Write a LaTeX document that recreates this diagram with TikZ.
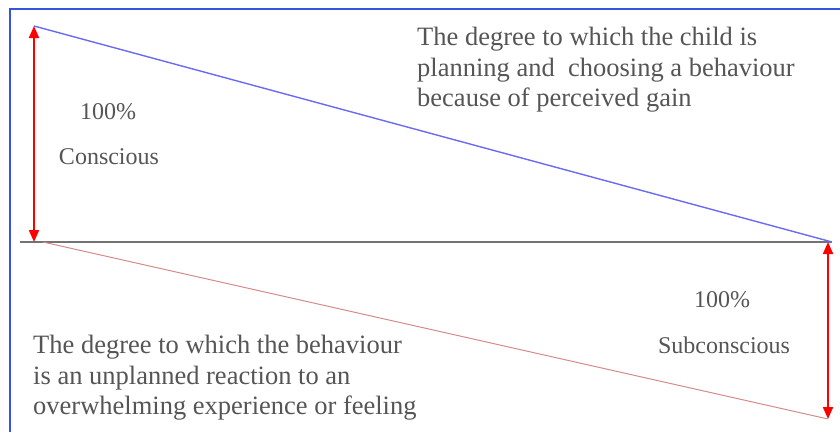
\documentclass[tikz,border=0pt]{standalone}
\usepackage{fontspec}
\setmainfont{Liberation Serif}
\usetikzlibrary{arrows.meta}
\definecolor{frameblue}{HTML}{3355DD}
\definecolor{lineblue}{HTML}{6A6AF5}
\definecolor{linepink}{HTML}{D68A8A}
\definecolor{textgray}{HTML}{555555}
\tikzset{
  label/.style={text=textgray, inner sep=0pt, font=\fontsize{26.5}{30.5}\selectfont},
  side/.style={text=textgray, inner sep=0pt, font=\fontsize{24}{28}\selectfont},
  span/.style={red, line width=2pt, {Triangle[width=10pt,length=12pt]}-{Triangle[width=10pt,length=12pt]}},
}
\begin{document}
\begin{tikzpicture}[x=1pt,y=-1pt]
  \useasboundingbox (0,0) rectangle (840,432);
  \draw[frameblue, line width=2pt] (10,432) -- (10,9) -- (840,9);
  \draw
    (34,26) coordinate (top)
    (34,242) coordinate (left)
    (20,242) coordinate (axisw)
    (832,242) coordinate (right)
    (43,242) coordinate (pinkw)
    (828,242) coordinate (rtop)
    (828,419) coordinate (bottom);
  \begin{scope}
    \draw[gray!90!black, line width=2pt] (axisw) to (right);
    \draw[lineblue, line width=1.4pt] (top) to (right);
    \draw[linepink, line width=1pt] (pinkw) to (bottom);
    \draw[span] (left) to (top);
    \draw[span] (rtop) to (bottom);
  \end{scope}
  \node[side, anchor=center] (pc1) at (108,112) {100\%};
  \node[side, anchor=center] (con) at (109,157) {Conscious};
  \node[side, anchor=center] (pc2) at (722,300) {100\%};
  \node[side, anchor=center] (sub) at (724,345) {Subconscious};
  \node[label, anchor=north west, align=left] (plan) at (417,27)
    {The degree to which the child is\\planning and \ choosing a behaviour\\because of perceived gain};
  \node[label, anchor=north west, align=left] (react) at (33,335)
    {The degree to which the behaviour\\is an unplanned reaction to an\\overwhelming experience or feeling};
\end{tikzpicture}
\end{document}
